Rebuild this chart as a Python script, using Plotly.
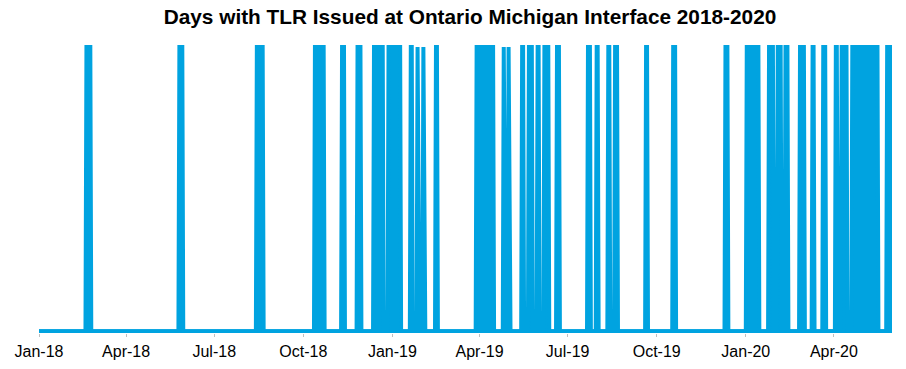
import pandas as pd
import plotly.graph_objects as go

# Runs of consecutive days on which a TLR was issued
run_start = [
    "2018-02-19", "2018-05-26", "2018-08-14", "2018-10-13", "2018-11-10",
    "2018-11-26", "2018-12-13", "2018-12-28", "2019-01-20", "2019-01-27",
    "2019-02-02", "2019-02-15", "2019-03-29", "2019-04-26", "2019-05-01",
    "2019-05-15", "2019-05-22", "2019-05-31", "2019-06-07", "2019-06-20",
    "2019-07-22", "2019-07-31", "2019-08-12", "2019-08-19", "2019-09-20",
    "2019-10-18", "2019-12-11", "2020-01-02", "2020-01-25", "2020-02-03",
    "2020-02-11", "2020-02-26", "2020-03-10", "2020-03-21", "2020-04-03",
    "2020-04-09", "2020-04-20", "2020-05-26",
]
run_end = [
    "2018-02-23", "2018-05-29", "2018-08-20", "2018-10-22", "2018-11-12",
    "2018-11-29", "2018-12-22", "2019-01-09", "2019-01-21", "2019-01-27",
    "2019-02-02", "2019-02-16", "2019-04-15", "2019-04-26", "2019-05-01",
    "2019-05-16", "2019-05-25", "2019-06-01", "2019-06-11", "2019-06-22",
    "2019-07-24", "2019-08-01", "2019-08-13", "2019-08-21", "2019-09-21",
    "2019-10-20", "2019-12-13", "2020-01-14", "2020-01-29", "2020-02-06",
    "2020-02-13", "2020-03-01", "2020-03-11", "2020-03-23", "2020-04-04",
    "2020-04-14", "2020-05-16", "2020-05-31",
]
period_start = "2018-01-01"
period_end = "2020-05-31"

tick_dates = ["2018-01-01", "2018-04-01", "2018-07-01", "2018-10-01",
              "2019-01-01", "2019-04-01", "2019-07-01", "2019-10-01",
              "2020-01-01", "2020-04-01"]
tick_labels = ["Jan-18", "Apr-18", "Jul-18", "Oct-18", "Jan-19", "Apr-19",
               "Jul-19", "Oct-19", "Jan-20", "Apr-20"]

days = pd.date_range(period_start, period_end, freq="D")
tlr = pd.Series(0, index=days)
for s, e in zip(run_start, run_end):
    tlr.loc[s:e] = 1

BLUE = "#00A3E0"
FONT = "Arial, Liberation Sans, sans-serif"

fig = go.Figure()
# area outline along the zero level (the thick baseline of the area chart)
fig.add_trace(go.Scatter(
    x=[period_start, period_end], y=[0, 0], mode="lines",
    line=dict(color=BLUE, width=4),
    hoverinfo="skip", showlegend=False,
))
fig.add_trace(go.Scatter(
    x=tlr.index, y=tlr.values, mode="lines",
    line=dict(color=BLUE, width=4),
    fill="tozeroy", fillcolor=BLUE,
    hoverinfo="x+y", showlegend=False,
))

fig.update_layout(
    width=906, height=369,
    margin=dict(l=39, r=14, t=41, b=36, autoexpand=False),
    paper_bgcolor="white", plot_bgcolor="white",
    title=dict(
        text="<b>Days with TLR Issued at Ontario Michigan Interface 2018-2020</b>",
        font=dict(family=FONT, size=20.8, color="#000000"),
        x=470 / 906, xanchor="center", xref="container",
        y=1 - 17 / 369, yanchor="middle", yref="container",
    ),
    xaxis=dict(
        type="date", automargin=False,
        range=[period_start, period_end],
        tickvals=tick_dates, ticktext=tick_labels,
        ticks="outside", ticklen=3, tickcolor="#BFBFBF", tickwidth=1,
        ticklabelstandoff=1,
        showgrid=False, zeroline=False, showline=False,
        tickfont=dict(family=FONT, size=16, color="#000000"),
    ),
    yaxis=dict(
        automargin=False,
        range=[-0.006, 1.0211],
        visible=False, showgrid=False, zeroline=False,
    ),
)

# remove the browser's default 8px page margin so the figure fills the window
fig.write_html(
    "out.html",
    config={"displayModeBar": False},
    post_script="document.body.style.margin='0px';",
)
